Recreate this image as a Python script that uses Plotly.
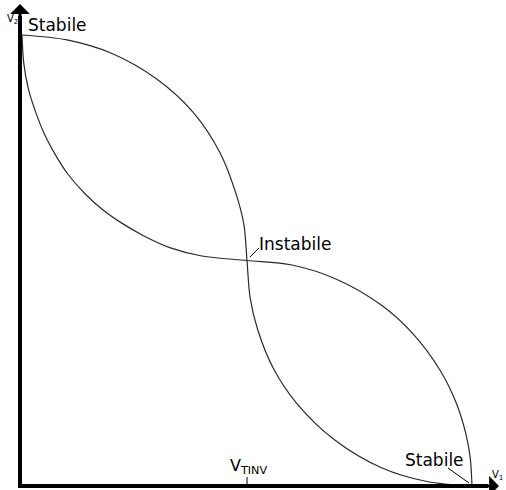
import plotly.graph_objects as go

# Curve A: V2 as function of V1 (inverter 1), normalized to Vdd
a_v1 = [0, 0.10, 0.20, 0.30, 0.38, 0.44, 0.475, 0.493, 0.5,
        0.507, 0.524, 0.559, 0.61, 0.695, 0.80, 0.90, 1.0]
a_v2 = [1, 0.989, 0.959, 0.902, 0.829, 0.739, 0.650, 0.580, 0.5,
        0.417, 0.346, 0.260, 0.184, 0.102, 0.040, 0.010, 0.0]

# Curve B: V1 as function of V2 (inverter 2)
b_v1 = [0, 0.004, 0.014, 0.03, 0.05, 0.075, 0.10, 0.14, 0.18, 0.22, 0.27, 0.33, 0.40, 0.5,
        0.60, 0.70, 0.80, 0.87, 0.93, 0.965, 0.986, 0.996, 1.0]
b_v2 = [1, 0.937, 0.881, 0.830, 0.780, 0.733, 0.694, 0.648, 0.612, 0.584, 0.555, 0.528, 0.510, 0.5,
        0.490, 0.458, 0.400, 0.336, 0.255, 0.184, 0.117, 0.063, 0.0]

labels_stable = "Stabile"
label_unstable = "Instabile"
label_x = "V<sub>1</sub>"
label_y = "V<sub>2</sub>"
label_vinv = "V<sub>TINV</sub>"
v_inv = 0.5

W, H = 506, 490
PX0, PX1 = 22, 472   # pixel of V1=0 and V1=1
PY0, PY1 = 486, 35   # pixel of V2=0 and V2=1
SX = PX1 - PX0
SY = PY0 - PY1


def dx(px):
    return (px - PX0) / SX


def dy(py):
    return (PY0 - py) / SY


line_col = "#2a2a2a"
fig = go.Figure()
fig.add_trace(go.Scatter(x=a_v1, y=a_v2, mode="lines",
                         line=dict(color=line_col, width=1.2, shape="spline", smoothing=0.9),
                         hoverinfo="skip"))
fig.add_trace(go.Scatter(x=b_v1, y=b_v2, mode="lines",
                         line=dict(color=line_col, width=1.2, shape="spline", smoothing=0.9),
                         hoverinfo="skip"))

shapes = []
# axes lines
shapes.append(dict(type="line", xref="x", yref="y", x0=dx(20), x1=dx(20), y0=dy(488), y1=dy(16),
                   line=dict(color="black", width=4)))
shapes.append(dict(type="line", xref="x", yref="y", x0=dx(18), x1=dx(488), y0=dy(486), y1=dy(486),
                   line=dict(color="black", width=4)))
# tick at V_inv
shapes.append(dict(type="line", xref="x", yref="y", x0=v_inv, x1=v_inv, y0=dy(486), y1=dy(477),
                   line=dict(color="black", width=1)))
# leader lines
shapes.append(dict(type="line", xref="x", yref="y", x0=dx(250), x1=dx(259), y0=dy(257), y1=dy(248),
                   line=dict(color="black", width=1)))
shapes.append(dict(type="line", xref="x", yref="y", x0=dx(448), x1=dx(469), y0=dy(468), y1=dy(483),
                   line=dict(color="black", width=1)))

font = "DejaVu Sans"
ann = []
# arrow heads
ann.append(dict(xref="x", yref="y", axref="x", ayref="y", x=dx(20), y=dy(4), ax=dx(20), ay=dy(20),
                text="", showarrow=True, arrowhead=1, arrowsize=1.1, arrowwidth=3, arrowcolor="black"))
ann.append(dict(xref="x", yref="y", axref="x", ayref="y", x=dx(499), y=dy(486), ax=dx(483), ay=dy(486),
                text="", showarrow=True, arrowhead=1, arrowsize=1.1, arrowwidth=3, arrowcolor="black"))
# texts
ann.append(dict(xref="x", yref="y", x=dx(26), y=dy(25), text=labels_stable, showarrow=False,
                xanchor="left", yanchor="middle", font=dict(family=font, size=17, color="black")))
ann.append(dict(xref="x", yref="y", x=dx(257), y=dy(244), text=label_unstable, showarrow=False,
                xanchor="left", yanchor="middle", font=dict(family=font, size=17, color="black")))
ann.append(dict(xref="x", yref="y", x=dx(403), y=dy(460), text=labels_stable, showarrow=False,
                xanchor="left", yanchor="middle", font=dict(family=font, size=17, color="black")))
ann.append(dict(xref="x", yref="y", x=dx(5), y=dy(19), text=label_y, showarrow=False,
                xanchor="left", yanchor="middle", font=dict(family=font, size=10, color="black")))
ann.append(dict(xref="x", yref="y", x=dx(490), y=dy(475), text=label_x, showarrow=False,
                xanchor="left", yanchor="middle", font=dict(family=font, size=10, color="black")))
ann.append(dict(xref="x", yref="y", x=dx(228), y=dy(466), text=label_vinv, showarrow=False,
                xanchor="left", yanchor="middle", font=dict(family=font, size=16, color="black")))

fig.update_layout(
    width=W, height=H, margin=dict(l=0, r=0, t=0, b=0),
    paper_bgcolor="white", plot_bgcolor="white", showlegend=False,
    xaxis=dict(range=[dx(0), dx(W)], visible=False, fixedrange=True),
    yaxis=dict(range=[dy(H), dy(0)], visible=False, fixedrange=True),
    shapes=shapes, annotations=ann,
)
fig.write_html("out.html", config=dict(displayModeBar=False),
               post_script="document.body.style.margin='0';document.body.style.overflow='hidden';")
